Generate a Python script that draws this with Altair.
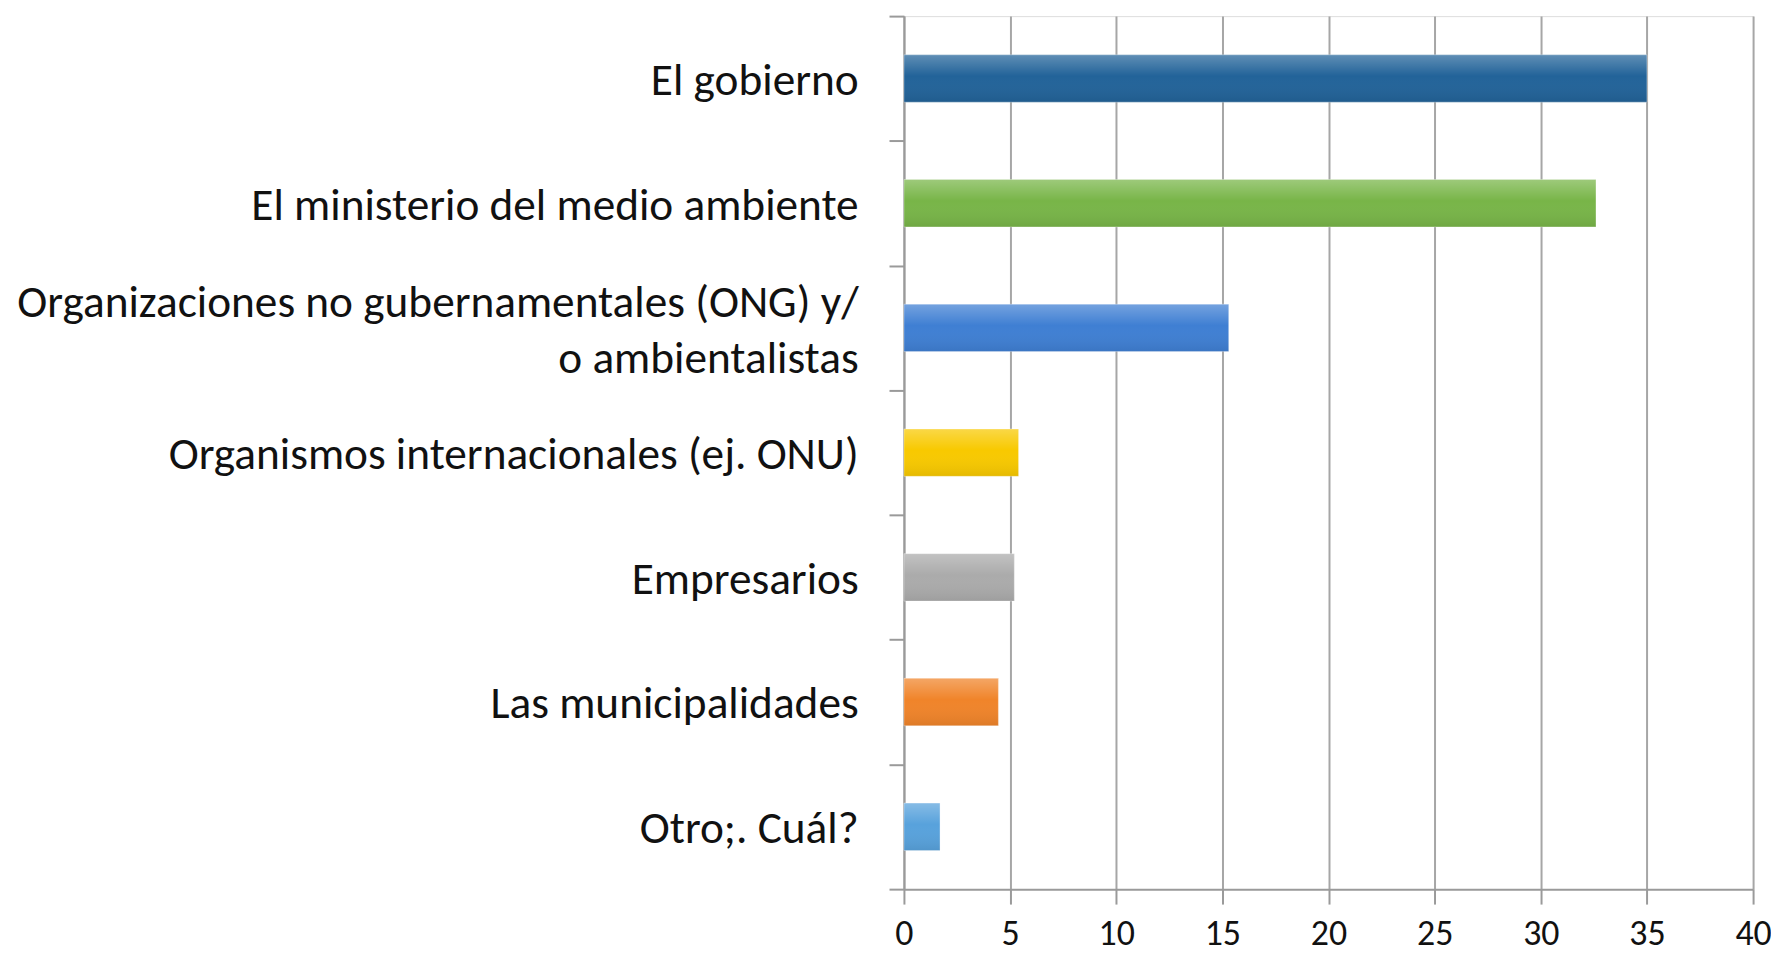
import altair as alt
import pandas as pd

categories = [
    "El gobierno",
    "El ministerio del medio ambiente",
    "Organizaciones no gubernamentales (ONG) y/|o ambientalistas",
    "Organismos internacionales (ej. ONU)",
    "Empresarios",
    "Las municipalidades",
    "Otro;. Cuál?",
]
values = [35.0, 32.6, 15.3, 5.4, 5.2, 4.45, 1.7]
colors = ["#226399", "#78b548", "#3f7fd3", "#f8c900", "#ababab", "#f0842a", "#58a2dc"]
x_ticks = [0, 5, 10, 15, 20, 25, 30, 35, 40]

df = pd.DataFrame({"cat": categories, "val": values})

FONT = "Carlito, Calibri, Lato, sans-serif"
TWO_LINE = categories[2]

y_enc = alt.Y(
    "cat:N",
    sort=categories,
    scale=alt.Scale(paddingInner=0, paddingOuter=0),
    axis=alt.Axis(
        title=None,
        tickBand="extent",
        tickSize=15,
        tickColor="#9a9a9a",
        tickWidth=2,
        domainColor="#9a9a9a",
        domainWidth=2,
        labelFont=FONT,
        labelFontSize=45.5,
        labelColor="#111111",
        labelPadding=31,
        labelLineHeight=56,
        labelExpr="split(datum.label, '|')",
        labelOffset={"condition": {"test": "datum.value === '" + TWO_LINE + "'", "value": -25}, "value": 2},
        labelLimit=1000,
        grid=False,
    ),
)

x_enc = alt.X(
    "val:Q",
    scale=alt.Scale(domain=[0, 40], nice=False),
    axis=alt.Axis(
        title=None,
        values=x_ticks,
        tickSize=15,
        tickColor="#9a9a9a",
        tickWidth=2,
        domainColor="#9a9a9a",
        domainWidth=2,
        grid=True,
        gridColor="#a6a6a6",
        gridWidth=2,
        labelFont=FONT,
        labelFontSize=36,
        labelColor="#111111",
        labelPadding=13,
        labelFlush=False,
    ),
)

BAND = alt.RelativeBandSize(0.38)

bars = alt.Chart(df).mark_bar(height=BAND, stroke="white", strokeOpacity=0.35, strokeWidth=1).encode(
    y=y_enc,
    x=x_enc,
    color=alt.Color("cat:N", sort=categories,
                    scale=alt.Scale(domain=categories, range=colors), legend=None),
)

shade = alt.Chart(df).mark_bar(
    height=BAND,
    fill={
        "gradient": "linear",
        "x1": 0, "y1": 0, "x2": 0, "y2": 1,
        "stops": [
            {"offset": 0, "color": "rgba(255,255,255,0.28)"},
            {"offset": 0.45, "color": "rgba(255,255,255,0.0)"},
            {"offset": 1, "color": "rgba(0,0,0,0.08)"},
        ],
    }
).encode(y=alt.Y("cat:N", sort=categories), x=alt.X("val:Q"))

chart = (
    alt.layer(bars, shade)
    .properties(
        width=853,
        height=877,
        autosize=alt.AutoSizeParams(type="none"),
        padding={"left": 900, "top": 6, "right": 18, "bottom": 64},
    )
    .configure_view(strokeWidth=0, stroke="transparent")
    .configure(background="white")
)

chart.save("out.html", embed_options={"renderer": "svg", "actions": False})
